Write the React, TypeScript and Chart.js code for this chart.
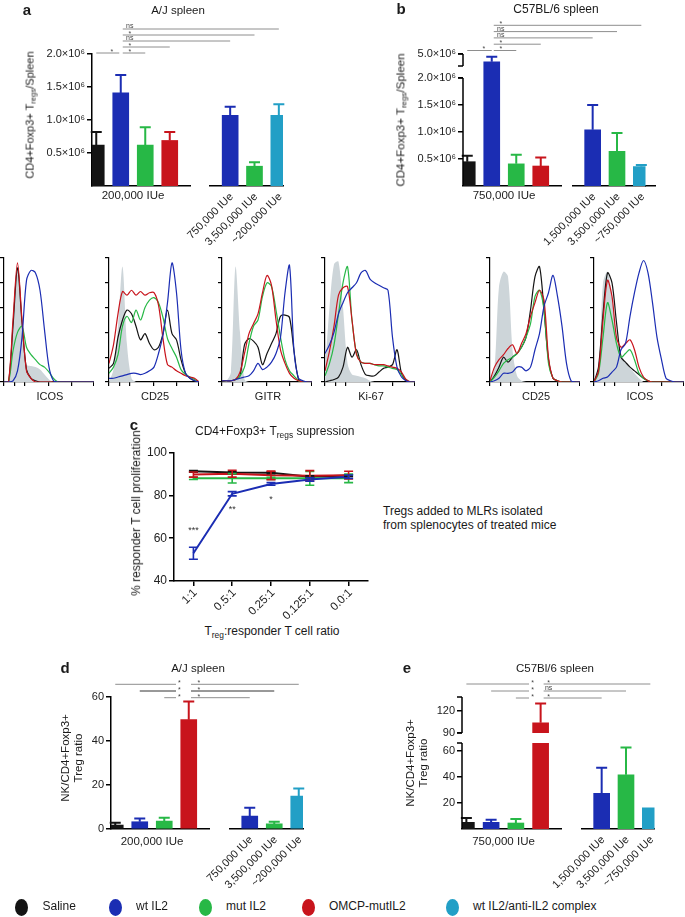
import React, { useEffect, useRef } from 'react';
import { Chart, registerables, LinearScale } from 'chart.js';

Chart.register(...registerables);

const FONT = '"Liberation Sans", Arial, Helvetica, sans-serif';
Chart.defaults.font.family = FONT;
Chart.defaults.color = '#222';

// ---------- colours ----------
const BLACK = '#141414';
const BLUE = '#1b2db3';
const GREEN = '#27b846';
const RED = '#c8141c';
const CYAN = '#229fc6';
const ISO_FILL = '#cdd5d9';
const SIG_GREY = '#8e8e8e';
const SIG_DARK = '#333333';
const TEXT = '#222222';

const GROUP1_COLORS = [BLACK, BLUE, GREEN, RED];
const GROUP2_COLORS = [BLUE, GREEN, CYAN];

// ---------- shared categories ----------
const TREATMENTS = ['Saline', 'wt IL2', 'mut IL2', 'OMCP-mutIL2'];

// ---------- panel a (A/J spleen, Tregs) ----------
const A_DOSE = '200,000 IUe';
const A_DOSES_2 = ['750,000 IUe', '3,500,000 IUe', '~200,000 IUe'];
const A_MEAN_1 = [620000, 1410000, 620000, 690000];
const A_SEM_1 = [200000, 270000, 270000, 130000];
const A_MEAN_2 = [1070000, 300000, 1070000];
const A_SEM_2 = [130000, 60000, 170000];
const A_YTICKS = [500000, 1000000, 1500000, 2000000];
const A_SIG_TARGETS = [0, 2, 3, 4, 5, 6];
const A_SIG_LABELS = ['*', '*', '*', 'ns', '*', 'ns'];
const A_SIG_LEVELS = [0, 0, 1, 2, 3, 4];

// ---------- panel b (C57BL/6 spleen, Tregs) ----------
const B_DOSE = '750,000 IUe';
const B_DOSES_2 = ['1,500,000 IUe', '3,500,000 IUe', '~750,000 IUe'];
const B_MEAN_1 = [450000, 4350000, 410000, 370000];
const B_SEM_1 = [110000, 430000, 170000, 160000];
const B_MEAN_2 = [1040000, 640000, 360000];
const B_SEM_2 = [460000, 340000, 30000];
const B_YTICKS = [500000, 1000000, 1500000, 2000000, 5000000];
const B_SIG_TARGETS = [0, 2, 3, 4, 5, 6];
const B_SIG_LABELS = ['*', '*', '*', 'ns', 'ns', '*'];
const B_SIG_LEVELS = [0, 0, 1, 2, 3, 4];

// ---------- panel c (suppression) ----------
const C_RATIOS = ['1:1', '0.5:1', '0.25:1', '0.125:1', '0.0:1'];
const C_SALINE = [91.3, 90.7, 90.6, 88.8, 89.3];
const C_SALINE_SEM = [0.4, 0.4, 0.4, 0.4, 0.4];
const C_WT = [53, 80.8, 85.4, 87.5, 88.8];
const C_WT_SEM = [2.8, 1.0, 0.6, 0.8, 0.8];
const C_MUT = [88, 88, 88, 88, 88];
const C_MUT_SEM = [0.5, 2.2, 0.5, 3.2, 2.0];
const C_OMCP = [89.8, 90.2, 89.4, 89.2, 89.5];
const C_OMCP_SEM = [1.2, 1.6, 2.0, 2.4, 1.8];
const C_SIG = ['***', '**', '*', '', ''];

// ---------- panel d (A/J spleen, NK/Treg) ----------
const D_MEAN_1 = [1.8, 3.3, 3.6, 49.7];
const D_SEM_1 = [1.0, 1.5, 1.5, 8.3];
const D_MEAN_2 = [5.9, 2.3, 15.0];
const D_SEM_2 = [3.8, 1.0, 3.4];
const D_YTICKS = [0, 20, 40, 60];
const D_SIG_TARGETS = [0, 1, 2, 4, 5, 6];
const D_SIG_LABELS = ['*', '*', '*', '*', '*', '*'];
const D_SIG_LEVELS = [2, 1, 0, 0, 1, 2];

// ---------- panel e (C57Bl/6 spleen, NK/Treg) ----------
const E_MEAN_1 = [5.1, 5.1, 4.6, 104];
const E_SEM_1 = [3.3, 2.0, 3.1, 26];
const E_MEAN_2 = [27.3, 41.6, 16.3];
const E_SEM_2 = [19.7, 20.9, 0];
const E_YTICKS = [20, 40, 60, 90, 120];
const E_SIG_TARGETS = [0, 1, 2, 4, 5, 6];
const E_SIG_LABELS = ['*', '*', '*', '*', 'ns', '*'];
const E_SIG_LEVELS = [2, 1, 0, 0, 1, 2];

// ---------- histograms (normalised % of max) ----------
const HIST_X = [0, 5, 10, 15, 20, 25, 30, 35, 40, 45, 50, 55, 60, 65, 70, 75, 80, 85, 90, 95, 100];
const HIST_XTICKS = [0, 12, 23, 50, 75, 100];
const HIST_MARKERS = ['ICOS', 'CD25', 'GITR', 'Ki-67', 'CD25', 'ICOS'];

const AJ_ICOS_ISO = [0, 0, 40, 90, 45, 14, 13, 12, 10, 6, 2, 0, 0, 0, 0, 0, 0, 0, 0, 0, 0];
const AJ_ICOS_SAL = [0, 0, 45, 92, 48, 10, 3, 1, 0, 0, 0, 0, 0, 0, 0, 0, 0, 0, 0, 0, 0];
const AJ_ICOS_WT = [0, 0, 1, 9, 36, 82, 90, 88, 74, 42, 12, 1, 0, 0, 0, 0, 0, 0, 0, 0, 0];
const AJ_ICOS_MUT = [0, 0, 25, 40, 45, 28, 22, 18, 14, 12, 8, 3, 0, 0, 0, 0, 0, 0, 0, 0, 0];
const AJ_ICOS_OMCP = [0, 0, 50, 96, 50, 9, 3, 0, 0, 0, 0, 0, 0, 0, 0, 0, 0, 0, 0, 0, 0];

const AJ_CD25_ISO = [0, 10, 45, 93, 30, 3, 0, 0, 0, 0, 0, 0, 0, 0, 0, 0, 0, 0, 0, 0, 0];
const AJ_CD25_SAL = [11, 15, 36, 50, 58, 55, 45, 34, 39, 31, 26, 28, 39, 58, 39, 34, 18, 7, 3, 1, 0];
const AJ_CD25_WT = [3, 3, 4, 5, 6, 7, 7, 6, 7, 9, 12, 23, 38, 64, 96, 72, 26, 7, 3, 1, 0];
const AJ_CD25_MUT = [7, 12, 22, 45, 53, 48, 58, 50, 60, 66, 68, 64, 52, 35, 27, 20, 10, 6, 4, 2, 0];
const AJ_CD25_OMCP = [15, 30, 55, 73, 70, 74, 70, 73, 70, 72, 72, 62, 35, 14, 12, 9, 7, 5, 4, 3, 0];

const AJ_GITR_ISO = [0, 1, 8, 93, 40, 2, 0, 0, 0, 0, 0, 0, 0, 0, 0, 0, 0, 0, 0, 0, 0];
const AJ_GITR_SAL = [1, 1, 1, 2, 5, 30, 35, 33, 28, 14, 23, 31, 39, 53, 54, 52, 25, 2, 0, 0, 0];
const AJ_GITR_WT = [1, 1, 1, 2, 3, 4, 5, 9, 15, 10, 12, 16, 23, 36, 72, 94, 25, 3, 1, 0, 0];
const AJ_GITR_MUT = [1, 1, 1, 2, 5, 12, 31, 45, 50, 69, 80, 77, 58, 36, 18, 9, 5, 1, 0, 0, 0];
const AJ_GITR_OMCP = [1, 1, 1, 2, 8, 23, 39, 47, 55, 72, 86, 78, 50, 26, 15, 7, 3, 1, 0, 0, 0];

const AJ_KI67_ISO = [10, 60, 95, 97, 60, 15, 6, 5, 4, 3, 1, 0, 0, 0, 0, 0, 0, 0, 0, 0, 0];
const AJ_KI67_SAL = [0, 1, 2, 4, 12, 28, 20, 26, 14, 6, 5, 5, 8, 11, 12, 14, 26, 7, 1, 0, 0];
const AJ_KI67_WT = [23, 30, 40, 55, 64, 72, 76, 80, 88, 90, 83, 80, 78, 76, 74, 36, 12, 4, 1, 0, 0];
const AJ_KI67_MUT = [5, 15, 30, 55, 80, 93, 50, 23, 16, 15, 15, 14, 13, 13, 12, 11, 10, 6, 2, 0, 0];
const AJ_KI67_OMCP = [9, 25, 45, 70, 76, 77, 50, 22, 16, 15, 15, 14, 14, 14, 13, 12, 11, 8, 2, 0, 0];

const B6_CD25_ISO = [0, 12, 77, 89, 85, 26, 5, 1, 0, 0, 0, 0, 0, 0, 0, 0, 0, 0, 0, 0, 0];
const B6_CD25_SAL = [0, 5, 12, 20, 16, 20, 23, 28, 36, 58, 85, 93, 58, 18, 3, 1, 0, 0, 0, 0, 0];
const B6_CD25_WT = [0, 1, 3, 7, 7, 8, 12, 12, 9, 12, 26, 39, 61, 72, 86, 69, 45, 15, 1, 0, 0];
const B6_CD25_MUT = [0, 4, 9, 15, 18, 20, 23, 28, 36, 47, 69, 74, 58, 15, 3, 1, 0, 0, 0, 0, 0];
const B6_CD25_OMCP = [1, 12, 18, 22, 27, 30, 23, 31, 39, 53, 64, 74, 66, 20, 3, 1, 0, 0, 0, 0, 0];

const B6_ICOS_ISO = [0, 9, 80, 89, 68, 36, 23, 16, 11, 7, 3, 0, 0, 0, 0, 0, 0, 0, 0, 0, 0];
const B6_ICOS_SAL = [0, 12, 55, 88, 80, 48, 20, 16, 12, 9, 6, 3, 1, 0, 0, 0, 0, 0, 0, 0, 0];
const B6_ICOS_WT = [0, 1, 3, 4, 8, 12, 26, 31, 53, 72, 88, 98, 88, 64, 36, 18, 3, 1, 0, 0, 0];
const B6_ICOS_MUT = [0, 7, 36, 64, 50, 31, 20, 23, 26, 18, 7, 3, 1, 0, 0, 0, 0, 0, 0, 0, 0];
const B6_ICOS_OMCP = [0, 9, 50, 82, 69, 36, 28, 31, 34, 26, 12, 4, 1, 0, 0, 0, 0, 0, 0, 0, 0];

const HIST_SETS = [
  [AJ_ICOS_ISO, AJ_ICOS_SAL, AJ_ICOS_WT, AJ_ICOS_MUT, AJ_ICOS_OMCP],
  [AJ_CD25_ISO, AJ_CD25_SAL, AJ_CD25_WT, AJ_CD25_MUT, AJ_CD25_OMCP],
  [AJ_GITR_ISO, AJ_GITR_SAL, AJ_GITR_WT, AJ_GITR_MUT, AJ_GITR_OMCP],
  [AJ_KI67_ISO, AJ_KI67_SAL, AJ_KI67_WT, AJ_KI67_MUT, AJ_KI67_OMCP],
  [B6_CD25_ISO, B6_CD25_SAL, B6_CD25_WT, B6_CD25_MUT, B6_CD25_OMCP],
  [B6_ICOS_ISO, B6_ICOS_SAL, B6_ICOS_WT, B6_ICOS_MUT, B6_ICOS_OMCP],
];

// ---------- legend ----------
const LEGEND_LABELS = ['Saline', 'wt IL2', 'mut IL2', 'OMCP-mutIL2', 'wt IL2/anti-IL2 complex'];
const LEGEND_COLORS = [BLACK, BLUE, GREEN, RED, CYAN];

// ================= layout helpers =================
type Rect = { x: number; y: number; w: number; h: number };
type Plot = { l: number; t: number; r: number; b: number };

function frame(cv: Rect, p: Plot) {
  return {
    padding: { left: 0, top: p.t - cv.y, right: cv.x + cv.w - p.r, bottom: 0 },
    yW: p.l - cv.x,
    xH: cv.y + cv.h - p.b,
  };
}

// Broken (piece-wise linear) y scale
function registerBrokenScale(scaleId: string, knots: number[][]) {
  class BrokenLinearScale extends LinearScale {
    static id = scaleId;
    static defaults = {};
    getPixelForValue(value: any) {
      if (value === null || value === undefined || Number.isNaN(+value)) return NaN;
      const v = +value;
      let k = 1;
      while (k < knots.length - 1 && v > knots[k][0]) k++;
      const [v0, d0] = knots[k - 1];
      const [v1, d1] = knots[k];
      const dec = d0 + ((v - v0) / (v1 - v0)) * (d1 - d0);
      return (this as any).getPixelForDecimal(dec);
    }
  }
  Chart.register(BrokenLinearScale as any);
}
registerBrokenScale('brokenB', [[0, 0], [2000000, 108 / 132], [4000000, 120 / 132], [5000000, 1]]);
registerBrokenScale('brokenE', [[0, 0], [66, 86 / 132], [90, 96 / 132], [139, 1]]);

const sciFmt = (v: number) => `${(v / 1e6).toFixed(1)}×10⁶`;
const plainFmt = (v: number) => `${v}`;

type Sig = {
  pivot: number; targets: number[]; labels: string[]; levels: number[];
  base: number; step: number; leftEnd: number; rightStart: number; labelL: number; labelR: number;
  levelColors: string[];
};
type BarSpec = {
  cv: Rect; plot: Plot; splits: number[];
  mean1: number[]; sem1: number[]; mean2: number[]; sem2: number[];
  dose1: string; doses2: string[]; yMax: number; yTicks: number[]; fmt: (v: number) => string;
  scaleType: string; segments?: number[][]; whiteGap?: number[]; groupDy: number; tickFont: number;
  sig: Sig;
};

function makeBarChart(canvas: HTMLCanvasElement, s: BarSpec) {
  const f = frame(s.cv, s.plot);
  const fitX = (sc: any) => { sc.height = f.xH; };
  const fitY = (sc: any) => { sc.width = f.yW; };
  const xAxis = (labels: string[], weight: number, border: boolean) => ({
    type: 'category', labels, position: 'bottom', stack: 'groups', stackWeight: weight, offset: true,
    grid: { display: false }, ticks: { display: false },
    border: { display: border, color: '#000', width: 1.5 },
    afterFit: fitX,
  });
  const scales: any = {
    x1: xAxis(TREATMENTS, s.splits[0] - s.plot.l, true),
    xgap: xAxis([''], s.splits[1] - s.splits[0], false),
    x2: xAxis(s.doses2, s.splits[2] - s.splits[1], true),
  };
  if (s.plot.r - s.splits[2] > 0.5) scales.xtail = xAxis([''], s.plot.r - s.splits[2], true);
  scales.y = {
    type: s.scaleType, position: 'left', min: 0, max: s.yMax,
    afterBuildTicks: (sc: any) => { sc.ticks = s.yTicks.map((v) => ({ value: v })); },
    ticks: { callback: (v: any) => s.fmt(+v), font: { size: s.tickFont, family: FONT }, color: TEXT, padding: 2 },
    grid: { display: true, drawOnChartArea: false, drawTicks: true, tickLength: 5, color: '#000', lineWidth: 1.5 },
    border: { display: !s.segments, color: '#000', width: 1.5 },
    afterFit: fitY,
  };

  const extras = {
    id: 'barExtras',
    afterDatasetsDraw(chart: any) {
      const ctx = chart.ctx;
      const ca = chart.chartArea;
      const ys = chart.scales.y;
      if (s.whiteGap) {
        const ya = ys.getPixelForValue(s.whiteGap[0]);
        const yb = ys.getPixelForValue(s.whiteGap[1]);
        ctx.save();
        ctx.fillStyle = '#ffffff';
        ctx.fillRect(ca.left + 1, Math.min(ya, yb), ca.right - ca.left, Math.abs(ya - yb));
        ctx.restore();
      }
      chart.data.datasets.forEach((ds: any, di: number) => {
        const meta = chart.getDatasetMeta(di);
        meta.data.forEach((el: any, i: number) => {
          const e = ds.errors[i];
          if (!e) return;
          const yTop = ys.getPixelForValue(ds.data[i] + e);
          const y0 = ys.getPixelForValue(ds.data[i]);
          ctx.save();
          ctx.strokeStyle = ds.backgroundColor[i];
          ctx.lineWidth = 2;
          ctx.beginPath();
          ctx.moveTo(el.x, y0);
          ctx.lineTo(el.x, yTop);
          ctx.moveTo(el.x - 5.5, yTop);
          ctx.lineTo(el.x + 5.5, yTop);
          ctx.stroke();
          ctx.restore();
        });
      });
    },
    afterDraw(chart: any) {
      const ctx = chart.ctx;
      const ca = chart.chartArea;
      const ys = chart.scales.y;
      // broken y-axis segments
      if (s.segments) {
        ctx.save();
        ctx.strokeStyle = '#000';
        ctx.lineWidth = 1.5;
        s.segments.forEach(([v0, v1]) => {
          const p0 = ys.getPixelForValue(v0);
          const p1 = ys.getPixelForValue(v1);
          ctx.beginPath();
          ctx.moveTo(ca.left, p0);
          ctx.lineTo(ca.left, p1);
          if (v0 > 0) { ctx.moveTo(ca.left - 5, p0); ctx.lineTo(ca.left, p0); }
          ctx.moveTo(ca.left - 5, p1);
          ctx.lineTo(ca.left, p1);
          ctx.stroke();
        });
        ctx.restore();
      }
      const m0 = chart.getDatasetMeta(0).data;
      const m1 = chart.getDatasetMeta(1).data;
      const centers = [...m0.map((e: any) => e.x), ...m1.map((e: any) => e.x)];
      // significance brackets
      const g = s.sig;
      const p = centers[g.pivot];
      ctx.save();
      ctx.lineWidth = 1;
      ctx.font = `7px ${FONT}`;
      ctx.textAlign = 'center';
      ctx.textBaseline = 'bottom';
      g.targets.forEach((t, k) => {
        const y = ca.top + g.base - g.levels[k] * g.step;
        let x0: number, x1: number, lx: number;
        if (t < g.pivot) { x0 = centers[t]; x1 = p + g.leftEnd; lx = p + g.labelL; }
        else { x0 = p + g.rightStart; x1 = centers[t]; lx = p + g.labelR; }
        ctx.strokeStyle = g.levelColors[g.levels[k]] || SIG_GREY;
        ctx.beginPath();
        ctx.moveTo(x0, y);
        ctx.lineTo(x1, y);
        ctx.stroke();
        ctx.fillStyle = '#444';
        ctx.fillText(g.labels[k], lx, y + (g.labels[k] === '*' ? 2.5 : 0.5));
      });
      ctx.restore();
      // group label
      ctx.save();
      ctx.fillStyle = TEXT;
      ctx.font = `11.5px ${FONT}`;
      ctx.textAlign = 'center';
      ctx.textBaseline = 'middle';
      const gx = m0.reduce((a: number, e: any) => a + e.x, 0) / m0.length;
      ctx.fillText(s.dose1, gx, ca.bottom + s.groupDy);
      // rotated dose labels
      ctx.font = `11px ${FONT}`;
      ctx.textAlign = 'right';
      m1.forEach((el: any, i: number) => {
        ctx.save();
        ctx.translate(el.x + 1.5, ca.bottom + 9);
        ctx.rotate(-Math.PI / 4);
        ctx.fillText(s.doses2[i], 0, 0);
        ctx.restore();
      });
      ctx.restore();
    },
  };

  return new Chart(canvas, {
    type: 'bar',
    data: {
      datasets: [
        { data: s.mean1, errors: s.sem1, xAxisID: 'x1', yAxisID: 'y', backgroundColor: GROUP1_COLORS, barThickness: 16, borderWidth: 0 } as any,
        { data: s.mean2, errors: s.sem2, xAxisID: 'x2', yAxisID: 'y', backgroundColor: GROUP2_COLORS, barThickness: 16, borderWidth: 0 } as any,
      ],
    },
    options: {
      animation: false, responsive: false, devicePixelRatio: 1, events: [],
      layout: { padding: f.padding },
      plugins: { legend: { display: false }, tooltip: { enabled: false }, title: { display: false } },
      scales,
    } as any,
    plugins: [extras],
  });
}

const PANEL_A: BarSpec = {
  cv: { x: 30, y: 14, w: 272, h: 250 }, plot: { l: 92, t: 54, r: 283, b: 186 }, splits: [190, 210, 283],
  mean1: A_MEAN_1, sem1: A_SEM_1, mean2: A_MEAN_2, sem2: A_SEM_2, dose1: A_DOSE, doses2: A_DOSES_2,
  yMax: 2000000, yTicks: A_YTICKS, fmt: sciFmt, scaleType: 'linear', groupDy: 10, tickFont: 11,
  sig: { pivot: 1, targets: A_SIG_TARGETS, labels: A_SIG_LABELS, levels: A_SIG_LEVELS, base: -1, step: 6,
    leftEnd: -1.5, rightStart: 2, labelL: -9, labelR: 9, levelColors: [SIG_GREY, SIG_GREY, SIG_GREY, SIG_GREY, SIG_GREY] },
};
const PANEL_B: BarSpec = {
  cv: { x: 400, y: 14, w: 270, h: 250 }, plot: { l: 463, t: 54, r: 655, b: 186 }, splits: [561, 572.5, 645.5],
  mean1: B_MEAN_1, sem1: B_SEM_1, mean2: B_MEAN_2, sem2: B_SEM_2, dose1: B_DOSE, doses2: B_DOSES_2,
  yMax: 5000000, yTicks: B_YTICKS, fmt: sciFmt, scaleType: 'brokenB', segments: [[0, 2000000], [4000000, 5000000]],
  groupDy: 10, tickFont: 11,
  sig: { pivot: 1, targets: B_SIG_TARGETS, labels: B_SIG_LABELS, levels: B_SIG_LEVELS, base: -3.5, step: 6.3,
    leftEnd: 0, rightStart: 2, labelL: -8, labelR: 9, levelColors: [SIG_GREY, SIG_GREY, SIG_GREY, SIG_GREY, SIG_GREY] },
};
const PANEL_D: BarSpec = {
  cv: { x: 80, y: 674, w: 235, h: 214 }, plot: { l: 111, t: 697, r: 303, b: 829 }, splits: [209, 229.5, 303],
  mean1: D_MEAN_1, sem1: D_SEM_1, mean2: D_MEAN_2, sem2: D_SEM_2, dose1: A_DOSE, doses2: A_DOSES_2,
  yMax: 60, yTicks: D_YTICKS, fmt: plainFmt, scaleType: 'linear', groupDy: 13, tickFont: 11,
  sig: { pivot: 3, targets: D_SIG_TARGETS, labels: D_SIG_LABELS, levels: D_SIG_LEVELS, base: 0.7, step: 6.7,
    leftEnd: -12.75, rightStart: 2.25, labelL: -9.5, labelR: 10, levelColors: [SIG_GREY, SIG_DARK, SIG_GREY] },
};
const PANEL_E: BarSpec = {
  cv: { x: 420, y: 674, w: 250, h: 214 }, plot: { l: 462, t: 697, r: 654.5, b: 829 }, splits: [561, 581.5, 654.5],
  mean1: E_MEAN_1, sem1: E_SEM_1, mean2: E_MEAN_2, sem2: E_SEM_2, dose1: B_DOSE, doses2: B_DOSES_2,
  yMax: 139, yTicks: E_YTICKS, fmt: plainFmt, scaleType: 'brokenE', segments: [[0, 66], [90, 139]], whiteGap: [66, 90],
  groupDy: 13, tickFont: 11,
  sig: { pivot: 3, targets: E_SIG_TARGETS, labels: E_SIG_LABELS, levels: E_SIG_LEVELS, base: 1, step: 7,
    leftEnd: -11.6, rightStart: 3, labelL: -8, labelR: 8, levelColors: [SIG_GREY, SIG_GREY, SIG_GREY] },
};

// ---------- panel c line chart ----------
const C_CANVAS: Rect = { x: 120, y: 440, w: 260, h: 180 };
const C_PLOT: Plot = { l: 174, t: 452.7, r: 368, b: 581 };

function makeLineChart(canvas: HTMLCanvasElement) {
  const f = frame(C_CANVAS, C_PLOT);
  const extras = {
    id: 'cExtras',
    afterDatasetsDraw(chart: any) {
      const ctx = chart.ctx;
      const ys = chart.scales.y;
      const n = chart.data.datasets.length;
      for (let di = n - 1; di >= 0; di--) {
        const ds: any = chart.data.datasets[di];
        const meta = chart.getDatasetMeta(di);
        meta.data.forEach((pt: any, i: number) => {
          const e = ds.errors[i];
          const yHi = ys.getPixelForValue(ds.data[i] + e);
          const yLo = ys.getPixelForValue(ds.data[i] - e);
          ctx.save();
          ctx.strokeStyle = ds.borderColor;
          ctx.lineWidth = 1.6;
          ctx.beginPath();
          ctx.moveTo(pt.x, yHi); ctx.lineTo(pt.x, yLo);
          ctx.moveTo(pt.x - 4.5, yHi); ctx.lineTo(pt.x + 4.5, yHi);
          ctx.moveTo(pt.x - 4.5, yLo); ctx.lineTo(pt.x + 4.5, yLo);
          ctx.stroke();
          ctx.restore();
        });
      }
    },
    afterDraw(chart: any) {
      const ctx = chart.ctx;
      const ca = chart.chartArea;
      const wt = chart.getDatasetMeta(0).data;
      ctx.save();
      ctx.fillStyle = '#333';
      ctx.font = `9px ${FONT}`;
      ctx.textAlign = 'center';
      ctx.textBaseline = 'middle';
      C_SIG.forEach((sg, i) => {
        if (!sg) return;
        const p = wt[i];
        ctx.fillText(sg, p.x, i === 0 ? p.y - 23 : p.y + 16);
      });
      ctx.fillStyle = TEXT;
      ctx.font = `11.5px ${FONT}`;
      ctx.textAlign = 'right';
      const xs = chart.scales.x;
      C_RATIOS.forEach((lab, i) => {
        const x = xs.getPixelForValue(i);
        ctx.save();
        ctx.translate(x + 2, ca.bottom + 10);
        ctx.rotate(-Math.PI / 4);
        ctx.fillText(lab, 0, 0);
        ctx.restore();
      });
      ctx.restore();
    },
  };
  const line = (data: number[], errors: number[], color: string, order: number) =>
    ({ data, errors, borderColor: color, backgroundColor: color, borderWidth: 2, pointRadius: 0, tension: 0, order } as any);
  return new Chart(canvas, {
    type: 'line',
    data: {
      labels: C_RATIOS,
      datasets: [
        line(C_WT, C_WT_SEM, BLUE, 1),
        line(C_OMCP, C_OMCP_SEM, RED, 2),
        line(C_MUT, C_MUT_SEM, GREEN, 3),
        line(C_SALINE, C_SALINE_SEM, BLACK, 4),
      ],
    },
    options: {
      animation: false, responsive: false, devicePixelRatio: 1, events: [],
      layout: { padding: f.padding },
      plugins: { legend: { display: false }, tooltip: { enabled: false } },
      scales: {
        x: {
          type: 'category', offset: true,
          grid: { display: true, drawOnChartArea: false, drawTicks: true, tickLength: 5, color: '#000', lineWidth: 1.5, offset: false },
          ticks: { display: false },
          border: { display: true, color: '#000', width: 1.5 },
          afterFit: (sc: any) => { sc.height = f.xH; },
        },
        y: {
          min: 40, max: 100,
          ticks: { stepSize: 20, font: { size: 12, family: FONT }, color: TEXT, padding: 2 },
          grid: { display: true, drawOnChartArea: false, drawTicks: true, tickLength: 5, color: '#000', lineWidth: 1.5 },
          border: { display: true, color: '#000', width: 1.5 },
          afterFit: (sc: any) => { sc.width = f.yW; },
        },
      },
    } as any,
    plugins: [extras],
  });
}

// ---------- histogram charts ----------
const HIST_AXIS_X = [4, 109, 222, 325, 490, 594];
const HIST_W = 90;
const HIST_TOP = 258;
const HIST_BOTTOM = 382;
const histCanvas = (i: number): Rect => ({ x: HIST_AXIS_X[i] - 10, y: 250, w: HIST_W + 10, h: 140 });
const histPlot = (i: number): Plot => ({ l: HIST_AXIS_X[i], t: HIST_TOP, r: HIST_AXIS_X[i] + HIST_W, b: HIST_BOTTOM });

function makeHist(canvas: HTMLCanvasElement, i: number) {
  const f = frame(histCanvas(i), histPlot(i));
  const [iso, sal, wt, mut, omcp] = HIST_SETS[i];
  const pts = (arr: number[]) => HIST_X.map((x, k) => ({ x, y: arr[k] }));
  const curve = (arr: number[], color: string, order: number) =>
    ({ data: pts(arr), borderColor: color, borderWidth: 1.2, pointRadius: 0, tension: 0.3, fill: false, order } as any);
  const axisGrid = { display: true, drawOnChartArea: false, drawTicks: true, tickLength: 4, color: '#000', lineWidth: 1.2 };
  return new Chart(canvas, {
    type: 'line',
    data: {
      datasets: [
        curve(wt, BLUE, 1),
        curve(omcp, RED, 2),
        curve(mut, GREEN, 3),
        curve(sal, BLACK, 4),
        { data: pts(iso), borderWidth: 0, pointRadius: 0, tension: 0.3, fill: 'origin', backgroundColor: ISO_FILL, order: 5 } as any,
      ],
    },
    options: {
      animation: false, responsive: false, devicePixelRatio: 1, events: [],
      layout: { padding: f.padding },
      plugins: { legend: { display: false }, tooltip: { enabled: false } },
      scales: {
        x: {
          type: 'linear', min: 0, max: 100,
          afterBuildTicks: (sc: any) => { sc.ticks = HIST_XTICKS.map((v) => ({ value: v })); },
          ticks: { display: false }, grid: axisGrid,
          border: { display: true, color: '#000', width: 1.2 },
          afterFit: (sc: any) => { sc.height = f.xH; },
        },
        y: {
          type: 'linear', min: 0, max: 100,
          ticks: { display: false, stepSize: 20 }, grid: axisGrid,
          border: { display: true, color: '#000', width: 1.2 },
          afterFit: (sc: any) => { sc.width = f.yW; },
        },
      },
    } as any,
  });
}

// ================= React =================
function ChartCanvas({ rect, build }: { rect: Rect; build: (c: HTMLCanvasElement) => Chart }) {
  const ref = useRef<HTMLCanvasElement | null>(null);
  useEffect(() => {
    if (!ref.current) return;
    const chart = build(ref.current);
    return () => chart.destroy();
  }, []);
  return (
    <div style={{ position: 'absolute', left: rect.x, top: rect.y, width: rect.w, height: rect.h }}>
      <canvas ref={ref} width={rect.w} height={rect.h} style={{ display: 'block', width: rect.w, height: rect.h }} />
    </div>
  );
}

function Txt({ x, y, size = 12, bold = false, align = 'center', rotate = 0, children }: any) {
  const tx = align === 'center' ? '-50%' : align === 'left' ? '0%' : '-100%';
  return (
    <div
      style={{
        position: 'absolute', left: x, top: y,
        transform: `translate(${tx}, -50%) rotate(${rotate}deg)`,
        fontSize: size, fontWeight: bold ? 700 : 400, whiteSpace: 'nowrap', lineHeight: 1.15,
        textAlign: 'center', color: '#1a1a1a',
      }}
    >
      {children}
    </div>
  );
}

const Sub = ({ children }: any) => (
  <span style={{ fontSize: '0.7em', position: 'relative', top: '0.3em' }}>{children}</span>
);

const LEGEND_X = [21.5, 115, 205, 308, 452];

export default function App() {
  return (
    <div
      style={{
        position: 'absolute', left: 0, top: 0, width: 685, height: 917, background: '#fff',
        overflow: 'hidden', fontFamily: FONT, color: TEXT,
      }}
    >
      {/* panel a / b */}
      <ChartCanvas rect={PANEL_A.cv} build={(c) => makeBarChart(c, PANEL_A)} />
      <ChartCanvas rect={PANEL_B.cv} build={(c) => makeBarChart(c, PANEL_B)} />
      <Txt x={27} y={10} size={15} bold>a</Txt>
      <Txt x={178} y={11} size={11.5}>A/J spleen</Txt>
      <Txt x={401} y={9} size={15} bold>b</Txt>
      <Txt x={556} y={10} size={12}>C57BL/6 spleen</Txt>
      <Txt x={30} y={115} size={11} rotate={-90}>CD4+Foxp3+ T<Sub>regs</Sub>/Spleen</Txt>
      <Txt x={401} y={120} size={11.5} rotate={-90}>CD4+Foxp3+ T<Sub>regs</Sub>/Spleen</Txt>

      {/* histograms */}
      {HIST_MARKERS.map((m, i) => (
        <React.Fragment key={i}>
          <ChartCanvas rect={histCanvas(i)} build={(c) => makeHist(c, i)} />
          <Txt x={HIST_AXIS_X[i] + HIST_W / 2 + 1} y={396} size={11}>{m}</Txt>
        </React.Fragment>
      ))}

      {/* panel c */}
      <ChartCanvas rect={C_CANVAS} build={(c) => makeLineChart(c)} />
      <Txt x={134} y={425} size={15} bold>c</Txt>
      <Txt x={195} y={432} size={12} align="left">CD4+Foxp3+ T<Sub>regs</Sub> supression</Txt>
      <Txt x={137} y={513} size={12} rotate={-90}>% responder T cell proliferation</Txt>
      <Txt x={272} y={632} size={12}>T<Sub>reg</Sub>:responder T cell ratio</Txt>
      <Txt x={383} y={512} size={12} align="left">Tregs added to MLRs isolated</Txt>
      <Txt x={383} y={526} size={12} align="left">from splenocytes of treated mice</Txt>

      {/* panel d / e */}
      <ChartCanvas rect={PANEL_D.cv} build={(c) => makeBarChart(c, PANEL_D)} />
      <ChartCanvas rect={PANEL_E.cv} build={(c) => makeBarChart(c, PANEL_E)} />
      <Txt x={65} y={668} size={15} bold>d</Txt>
      <Txt x={198} y={669} size={11.5}>A/J spleen</Txt>
      <Txt x={407} y={668} size={15} bold>e</Txt>
      <Txt x={555} y={669} size={11.5}>C57Bl/6 spleen</Txt>
      <Txt x={71.5} y={758} size={11.5} rotate={-90}>NK/CD4+Foxp3+<br />Treg ratio</Txt>
      <Txt x={416.5} y={763} size={11.5} rotate={-90}>NK/CD4+Foxp3+<br />Treg ratio</Txt>

      {/* legend */}
      <div style={{ position: 'absolute', left: 0, top: 889, width: 685, height: 28, background: '#fff' }} />
      {LEGEND_LABELS.map((lab, i) => (
        <React.Fragment key={lab}>
          <div
            style={{
              position: 'absolute', left: LEGEND_X[i] - 6.5, top: 907 - 8.5, width: 13, height: 17,
              borderRadius: '50%', background: LEGEND_COLORS[i],
            }}
          />
          <Txt x={LEGEND_X[i] + 21} y={907} size={12} align="left">{lab}</Txt>
        </React.Fragment>
      ))}
    </div>
  );
}
